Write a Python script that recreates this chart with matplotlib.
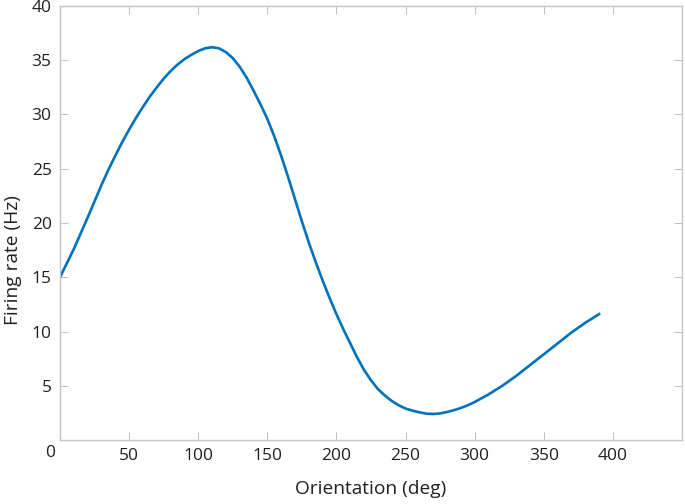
import matplotlib
matplotlib.use("Agg")
import matplotlib.pyplot as plt

plt.rcParams['font.family'] = ['Open Sans', 'DejaVu Sans']

orientation = [0, 5, 10, 15, 20, 25, 30, 35, 40, 45, 50, 55, 60, 65, 70, 75, 80, 85, 90, 95,
               100, 105, 110, 115, 120, 125, 130, 135, 140, 145, 150, 155, 160, 165, 170, 175,
               180, 185, 190, 195, 200, 205, 210, 215, 220, 225, 230, 235, 240, 245, 250, 255,
               260, 265, 270, 275, 280, 285, 290, 295, 300, 305, 310, 315, 320, 325, 330, 335,
               340, 345, 350, 355, 360, 365, 370, 375, 380, 385, 390]
firing_rate = [15.0, 16.3, 17.6, 19.05, 20.5, 22.0, 23.5, 24.9, 26.2, 27.45, 28.6, 29.7, 30.7,
               31.65, 32.5, 33.3, 34.0, 34.6, 35.1, 35.5, 35.85, 36.1, 36.2, 36.1, 35.75, 35.2,
               34.4, 33.4, 32.2, 30.95, 29.6, 28.0, 26.2, 24.25, 22.2, 20.15, 18.2, 16.4, 14.7,
               13.1, 11.6, 10.2, 8.9, 7.6, 6.45, 5.5, 4.7, 4.1, 3.6, 3.2, 2.9, 2.7, 2.55, 2.43,
               2.4, 2.45, 2.58, 2.75, 2.95, 3.2, 3.5, 3.85, 4.2, 4.6, 5.0, 5.45, 5.9, 6.4, 6.9,
               7.4, 7.9, 8.4, 8.9, 9.4, 9.9, 10.35, 10.8, 11.2, 11.6]

xticks = [50, 100, 150, 200, 250, 300, 350, 400]
yticks = [5, 10, 15, 20, 25, 30, 35, 40]

fig = plt.figure(figsize=(6.85, 5.04), dpi=100)
ax = fig.add_axes([60/685, 64/504, 622/685, 434/504])

ax.plot(orientation, firing_rate, color='#0072BD', linewidth=1.9)
ax.set_xlim(0, 450)
ax.set_ylim(0, 40)
ax.set_xticks(xticks)
ax.set_yticks(yticks)
txtc = '#202020'
ax.tick_params(direction='in', length=6, width=0.6, color='#b5b5b5',
               top=True, right=True, labelsize=12.5, labelcolor=txtc, pad=6)
for s in ax.spines.values():
    s.set_color('#c4c4c4')
    s.set_linewidth(1.0)

ax.text(-10/622, -13/434, '0', transform=ax.transAxes, ha='center', va='center',
        fontsize=12.5, color=txtc)

ax.set_xlabel('Orientation (deg)', fontsize=13.8, color=txtc, va='center')
ax.set_ylabel('Firing rate (Hz)', fontsize=13.8, color=txtc, va='center')
ax.xaxis.set_label_coords(0.5, -0.113)
ax.yaxis.set_label_coords(-0.076, 0.415)

fig.savefig('out.png', dpi=100)
